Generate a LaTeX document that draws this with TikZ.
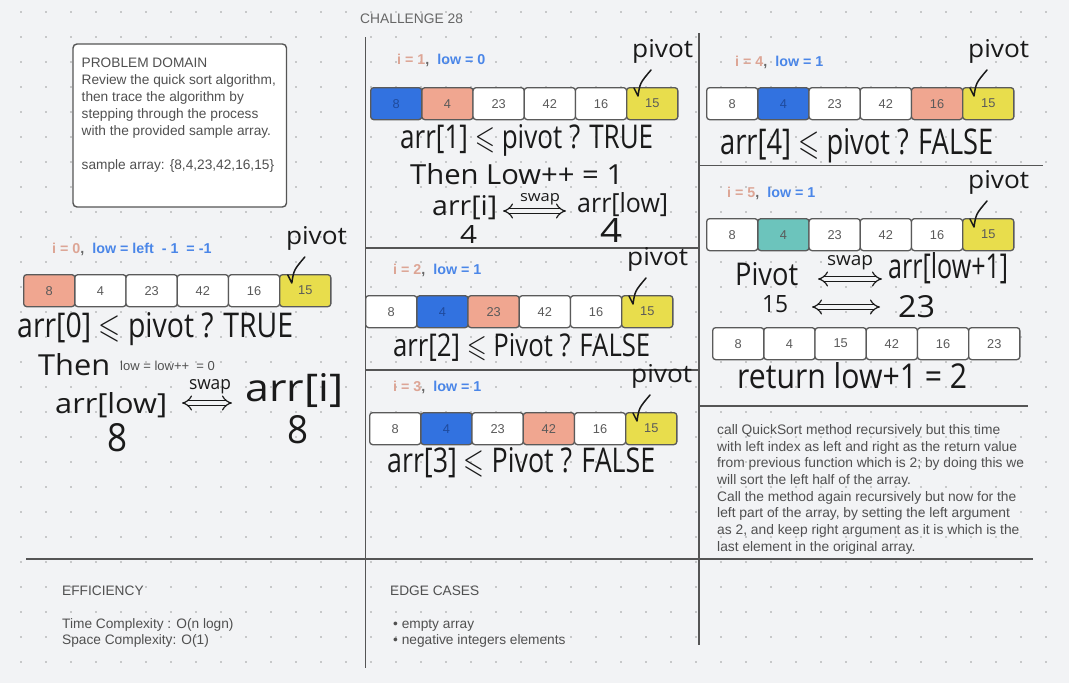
\documentclass[tikz,border=0pt]{standalone}
\usepackage{fontspec}
\usepackage{amssymb}
\usepackage{graphicx}
\setmainfont{Liberation Sans}
\newfontfamily\handfont{Open Sans}
\usetikzlibrary{arrows.meta}
\definecolor{bg}{HTML}{F2F3F5}
\definecolor{dotcol}{HTML}{9C9C9C}
\definecolor{rule}{HTML}{555555}
\definecolor{txt}{HTML}{505050}
\definecolor{ttl}{HTML}{666666}
\definecolor{cellborder}{HTML}{5A5A5A}
\definecolor{celltext}{HTML}{5A5A5A}
\definecolor{bluetext}{HTML}{1F4A9C}
\definecolor{salmon}{HTML}{F0A690}
\definecolor{cblue}{HTML}{3272E0}
\definecolor{cyellow}{HTML}{E8DD4C}
\definecolor{cteal}{HTML}{6CC4BC}
\definecolor{icol}{HTML}{DDA595}
\definecolor{lowcol}{HTML}{4A86E8}
\definecolor{ink}{HTML}{1A1A1A}
\newcommand\hw[3]{\resizebox{#1pt}{#2pt}{\handfont #3}}
\newcommand\cellrow[4]{%
  \foreach \v/\c/\t [count=\k] in {#4} {%
    \node[cellbox, fill=\c, text=\t, anchor=north west] (#1\k) at ({#2+(\k-1)*51.2}, #3) {\v};
  }}
\newcommand\pivotmark[3]{%
  \node[handtext] (#1) at ({#2+6}, {#3-30}) {\hw{61}{18}{pivot}};
  \draw[handline] ({#2+8},{#3+1}) -- ({#2+12},{#3+9}) .. controls ({#2+14},{#3-4}) .. ({#2+25},{#3-17});
}
\begin{document}
\begin{tikzpicture}[x=1pt,y=-1pt,
  cellbox/.style={draw=cellborder, line width=1.3pt, rounded corners=3pt, minimum width=51.2pt, minimum height=32pt, inner sep=0pt, font=\fontsize{12.8}{14}\selectfont},
  handtext/.style={inner sep=0pt, anchor=base west, text=ink},
  handline/.style={draw=ink, line width=1.5pt, line cap=round, line join=round},
  swaparrow/.style={draw=ink, line width=1.2pt, double=bg, double distance=4pt, {Implies}-{Implies}},
  swaplab/.style={inner sep=0pt, text=ink, anchor=base},
  steplab/.style={inner sep=0pt, anchor=west, font=\bfseries\fontsize{14.3}{16}\selectfont},
  ptext/.style={inner sep=0pt, anchor=base west, text=txt, font=\fontsize{13.7}{16}\selectfont},
  rulel/.style={draw=rule, line width=1.5pt}
]
\useasboundingbox (0,0) rectangle (1069,683);
\fill[bg] (0,0) rectangle (1069,683);
% dot grid
\foreach \i in {0,...,41}{\foreach \j in {0,...,26}{\fill[dotcol] ({21+25*\i},{12+25*\j}) circle (0.9pt);}}
% title
\node[inner sep=0pt, anchor=base west, text=ttl, font=\fontsize{13.8}{16}\selectfont] (title) at (360,23.5) {CHALLENGE 28};
% frame lines
\coordinate (v1t) at (365.5,37); \coordinate (v1b) at (365.5,668);
\coordinate (v2t) at (699,33); \coordinate (v2b) at (699,645);
\coordinate (hbl) at (26,559); \coordinate (hbr) at (1033,559);
\coordinate (m1l) at (365.5,248); \coordinate (m1r) at (699,248);
\coordinate (m2l) at (365.5,370); \coordinate (m2r) at (699,370);
\coordinate (r1l) at (699,165.5); \coordinate (r1r) at (1043,165.5);
\coordinate (r2l) at (699,406); \coordinate (r2r) at (1028,406);
\draw[rulel] (v1t) -- (v1b);
\draw[rulel] (v2t) -- (v2b);
\draw[rulel] (hbl) -- (hbr);
\draw[rulel] (m1l) -- (m1r);
\draw[rulel] (m2l) -- (m2r);
\draw[rulel] (r1l) -- (r1r);
\draw[rulel] (r2l) -- (r2r);
% problem domain
\draw[draw=rule, fill=white, line width=1.4pt, rounded corners=4pt] (73,44) rectangle (286.5,207);
\node[ptext] (pd1) at (81.5,67.5) {PROBLEM DOMAIN};
\node[ptext] (pd2) at (81.5,84.5) {Review the quick sort algorithm,};
\node[ptext] (pd3) at (81.5,101.5) {then trace the algorithm by};
\node[ptext] (pd4) at (81.5,118.5) {stepping through the process};
\node[ptext] (pd5) at (81.5,135.5) {with the provided sample array.};
\node[ptext] (pd6) at (81.5,169.5) {sample array: \{8,4,23,42,16,15\}};
% ---------- i = 0 ----------
\node[steplab] (lab0) at (52,249) {\textcolor{icol}{i = 0}\textcolor{ttl}{ ,\ \ }\textcolor{lowcol}{low = left \ - 1 \ = -1}};
\cellrow{a}{23}{274}{8/salmon/celltext, 4/white/celltext, 23/white/celltext, 42/white/celltext, 16/white/celltext, 15/cyellow/celltext}
\pivotmark{p0}{279.8}{274}
\node[handtext] (h01) at (17,337) {\hw{276}{25}{arr[0] $\leqslant$ pivot ? TRUE}};
\node[handtext] (h02) at (38,375) {\hw{72}{22}{Then}};
\node[inner sep=0pt, anchor=west, text=txt, font=\fontsize{13}{15}\selectfont] (h03) at (120,366) {low = low++ \ = 0};
\node[handtext] (h04) at (55,413) {\hw{112}{21}{arr[low]}};
\coordinate (s0a) at (182,403); \coordinate (s0b) at (232,403);
\draw[swaparrow] (s0a) -- (s0b);
\node[swaplab] (s0l) at (210,389) {\hw{42}{10}{swap}};
\node[handtext] (h05) at (245,401) {\hw{98}{28}{arr[i]}};
\node[handtext] (h06) at (107,451) {\hw{20}{28}{8}};
\node[handtext] (h07) at (287,443) {\hw{21}{28}{8}};
% ---------- i = 1 ----------
\node[steplab] (lab1) at (397,60) {\textcolor{icol}{i = 1}\textcolor{ttl}{ ,\ \ }\textcolor{lowcol}{low = 0}};
\cellrow{b}{370}{87}{8/cblue/bluetext, 4/salmon/celltext, 23/white/celltext, 42/white/celltext, 16/white/celltext, 15/cyellow/celltext}
\pivotmark{p1}{626}{87}
\node[handtext] (h11) at (400,148) {\hw{253}{24}{arr[1] $\leqslant$ pivot ? TRUE}};
\node[handtext] (h12) at (410,184) {\hw{213}{21}{Then Low++ = 1}};
\node[handtext] (h13) at (432,215) {\hw{65}{20}{arr[i]}};
\coordinate (s1a) at (503,211); \coordinate (s1b) at (566,211);
\draw[swaparrow] (s1a) -- (s1b);
\node[swaplab] (s1l) at (540,201) {\hw{40}{8}{swap}};
\node[handtext] (h14) at (577,212) {\hw{91}{20}{arr[low]}};
\node[handtext] (h15) at (460,243) {\hw{17}{18}{4}};
\node[handtext] (h16) at (600,242) {\hw{22}{24}{4}};
% ---------- i = 2 ----------
\node[steplab] (lab2) at (393,270) {\textcolor{icol}{i = 2}\textcolor{ttl}{ ,\ \ }\textcolor{lowcol}{low = 1}};
\cellrow{c}{365}{295}{8/white/celltext, 4/cblue/bluetext, 23/salmon/celltext, 42/white/celltext, 16/white/celltext, 15/cyellow/celltext}
\pivotmark{p2}{621}{295}
\node[handtext] (h21) at (393,356) {\hw{257}{23}{arr[2] $\leqslant$ Pivot ? FALSE}};
% ---------- i = 3 ----------
\node[steplab] (lab3) at (393,387) {\textcolor{icol}{i = 3}\textcolor{ttl}{ ,\ \ }\textcolor{lowcol}{low = 1}};
\cellrow{d}{369}{412}{8/white/celltext, 4/cblue/bluetext, 23/white/celltext, 42/salmon/celltext, 16/white/celltext, 15/cyellow/celltext}
\pivotmark{p3}{625}{412}
\node[handtext] (h31) at (387,472) {\hw{268}{25}{arr[3] $\leqslant$ Pivot ? FALSE}};
% ---------- i = 4 ----------
\node[steplab] (lab4) at (735,62) {\textcolor{icol}{i = 4}\textcolor{ttl}{ ,\ \ }\textcolor{lowcol}{low = 1}};
\cellrow{e}{706}{87}{8/white/celltext, 4/cblue/bluetext, 23/white/celltext, 42/white/celltext, 16/salmon/celltext, 15/cyellow/celltext}
\pivotmark{p4}{962}{87}
\node[handtext] (h41) at (720,154) {\hw{273}{26}{arr[4] $\leqslant$ pivot ? FALSE}};
% ---------- i = 5 ----------
\node[steplab] (lab5) at (727,193) {\textcolor{icol}{i = 5}\textcolor{ttl}{ ,\ \ }\textcolor{lowcol}{low = 1}};
\cellrow{f}{706}{218}{8/white/celltext, 4/cteal/celltext, 23/white/celltext, 42/white/celltext, 16/white/celltext, 15/cyellow/celltext}
\pivotmark{p5}{962}{218}
\node[handtext] (h51) at (735,285) {\hw{63}{23}{Pivot}};
\coordinate (s5a) at (818,279); \coordinate (s5b) at (882,279);
\draw[swaparrow] (s5a) -- (s5b);
\node[swaplab] (s5l) at (850,265) {\hw{46}{10}{swap}};
\node[handtext] (h52) at (888,278) {\hw{120}{26}{arr[low+1]}};
\node[handtext] (h53) at (762,312) {\hw{26}{17}{15}};
\coordinate (s6a) at (812,307); \coordinate (s6b) at (880,307);
\draw[swaparrow] (s6a) -- (s6b);
\node[handtext] (h54) at (898,317) {\hw{37}{22}{23}};
\cellrow{g}{712}{327}{8/white/celltext, 4/white/celltext, 15/white/celltext, 42/white/celltext, 16/white/celltext, 23/white/celltext}
\node[handtext] (h55) at (737,388) {\hw{230}{26}{return low+1 = 2}};
% explanation
\foreach \t [count=\k] in {{call QuickSort method recursively but this time},
  {with left index as left and right as the return value},
  {from previous function which is 2; by doing this we},
  {will sort the left half of the array.},
  {Call the method again recursively but now for the},
  {left part of the array, by setting the left argument},
  {as 2, and keep right argument as it is which is the},
  {last element in the original array.}} {
  \node[ptext, font=\fontsize{13.8}{16}\selectfont] (ex\k) at (717,{434.5+(\k-1)*16.67}) {\t};
}
% bottom
\node[ptext] (eff) at (62,595.5) {EFFICIENCY};
\node[ptext] (eff1) at (62,628.5) {Time Complexity : O(n logn)};
\node[ptext] (eff2) at (62,644.5) {Space Complexity: O(1)};
\node[ptext] (edge) at (390,595.5) {EDGE CASES};
\node[ptext] (edge1) at (393,628.5) {\textbullet\ empty array};
\node[ptext] (edge2) at (393,644.5) {\textbullet\ negative integers elements};
\end{tikzpicture}
\end{document}
